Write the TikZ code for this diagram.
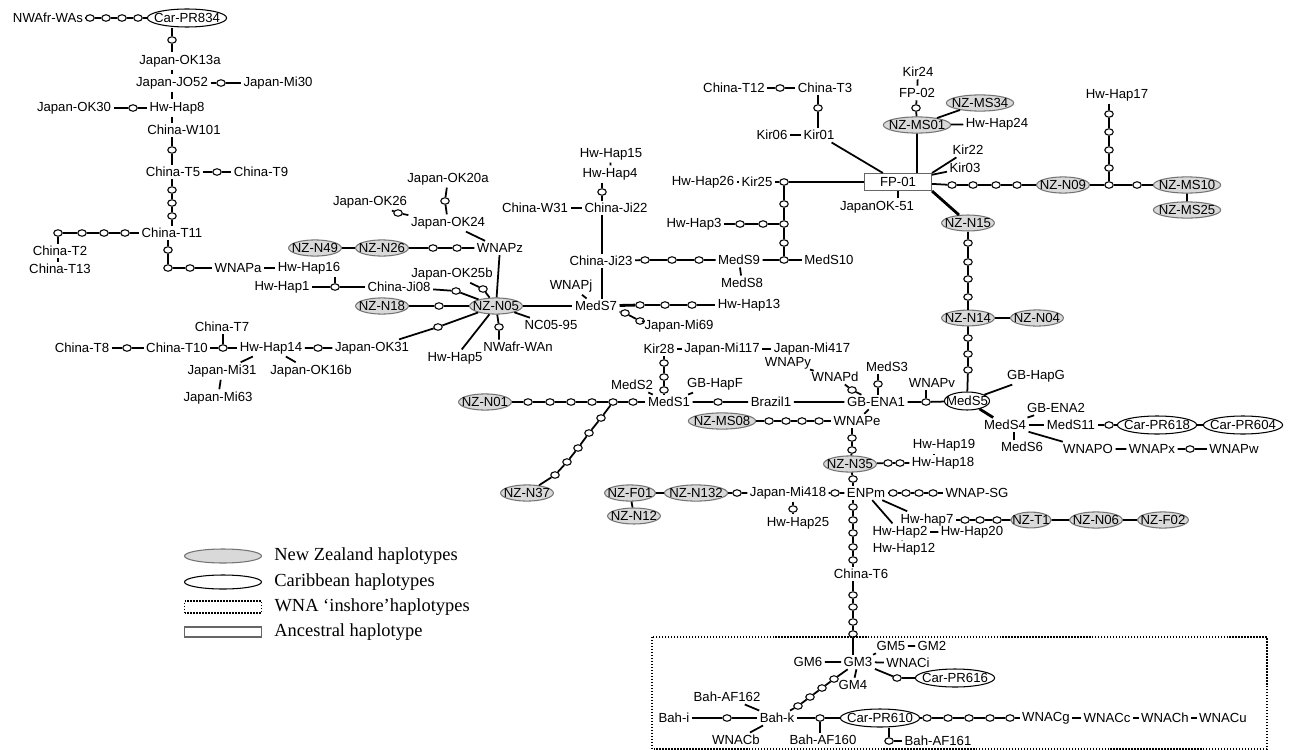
\documentclass[tikz,border=0pt]{standalone}
\usepackage{fontspec}
\setmainfont{Liberation Serif}
\setsansfont{Liberation Sans}
\usetikzlibrary{positioning,shapes.geometric}
\tikzset{
    hap/.style={%
        font=\sffamily\fontsize{7.5}{8}\selectfont,
        inner sep=1pt
        },
    nz/.style={hap, ellipse, draw=black!55, line width=0.6pt, fill=black!15,
        inner xsep=-2.5pt, inner ysep=0.6pt, minimum height=3mm},
    car/.style={hap, ellipse, draw, line width=0.6pt, fill=white,
        inner xsep=-2.8pt, inner ysep=0.6pt, minimum height=3.6mm},
    anc/.style={%
        hap, draw=black!60, line width=0.6pt, fill=white,
        minimum width=#1,
        minimum height=3.4mm
        },
    anc/.default=13.4mm,
    mv/.style={ellipse, draw, fill=white, line width=0.6pt,
        minimum width=1.7mm, minimum height=1.3mm, inner sep=0pt},
    heavy/.style={line width=1.6pt},
    inshore/.style={line width=0.8pt, dash pattern=on 0.8pt off 0.9pt},
    legtext/.style={font=\fontsize{10.5}{12}\selectfont, inner sep=0pt}
}

\begin{document}
\begin{tikzpicture}[x=0.02cm, y=-0.02cm, line width=1pt]
\useasboundingbox (0,0) rectangle (1294,750);

\node[hap] (nwafrwas) at (48,18) {NWAfr-WAs};
\node[mv] (ma1) at (90,18) {};
\node[mv] (ma2) at (106,18) {};
\node[mv] (ma3) at (122,18) {};
\node[mv] (ma4) at (138,18) {};
\node[car] (carpr834) at (187,18) {Car-PR834};
\node[mv] (mb1) at (172,40) {};
\node[hap] (jok13a) at (180,61) {Japan-OK13a};
\node[hap] (jjo52) at (172,83) {Japan-JO52};
\node[mv] (mc1) at (221,83) {};
\node[hap] (jmi30) at (278,83) {Japan-Mi30};
\node[hap] (hwhap8) at (177,108) {Hw-Hap8};
\node[mv] (md1) at (133,108) {};
\node[hap] (jok30) at (74,108) {Japan-OK30};
\node[hap] (chw101) at (184,130) {China-W101};
\node[mv] (me1) at (172,150) {};
\node[hap] (cht5) at (173,172) {China-T5};
\node[mv] (mf1) at (217,172) {};
\node[hap] (cht9) at (261,172) {China-T9};
\node[mv] (mg1) at (172,190) {};
\node[mv] (mg2) at (172,203) {};
\node[mv] (mg3) at (172,216) {};
\node[hap] (cht11) at (172,233) {China-T11};
\node[mv] (mh1) at (125,233) {};
\node[mv] (mh2) at (104,233) {};
\node[mv] (mh3) at (82,233) {};
\node[mv] (mh4) at (58,233) {};
\node[hap] (cht2) at (60,251) {China-T2};
\node[hap] (cht13) at (60,269) {China-T13};
\node[mv] (mi1) at (168,250) {};
\node[mv] (mi2) at (168,268) {};
\node[mv] (mi3) at (190,268) {};
\node[hap] (wnapa) at (238,268) {WNAPa};
\node[hap] (hwhap16) at (309,268) {Hw-Hap16};

\node[hap] (hwhap1) at (282,287) {Hw-Hap1};
\node[mv] (mj1) at (335,287) {};
\node[hap] (chji08) at (399,287) {China-Ji08};
\node[mv] (mk1) at (456,291) {};
\node[hap] (jok25b) at (452,274) {Japan-OK25b};
\node[mv] (ml1) at (483,289) {};
\node[nz] (nzn05) at (496,306) {NZ-N05};
\node[nz] (nzn18) at (382,306) {NZ-N18};
\node[mv] (mm1) at (439,306) {};
\node[hap] (wnapz) at (500,248) {WNAPz};
\node[nz] (nzn49) at (315,248) {NZ-N49};
\node[nz] (nzn26) at (382,248) {NZ-N26};
\node[mv] (mn1) at (433,248) {};
\node[mv] (mn2) at (457,248) {};
\node[hap] (jok24) at (448,223) {Japan-OK24};
\node[hap] (jok20a) at (448,179) {Japan-OK20a};
\node[mv] (mo1) at (445,201) {};
\node[hap] (jok26) at (370,202) {Japan-OK26};
\node[mv] (mp1) at (398,213) {};
\node[hap] (nc0595) at (551,325) {NC05-95};
\node[mv] (mq1) at (499,327) {};
\node[hap] (nwafrwan) at (518,347) {NWafr-WAn};
\node[hap] (hwhap5) at (455,358) {Hw-Hap5};
\node[mv] (mr1) at (438,327) {};
\node[hap] (jok31) at (372,348) {Japan-OK31};
\node[mv] (ms1) at (318,348) {};
\node[hap] (hwhap14) at (271,348) {Hw-Hap14};
\node[mv] (mt1) at (223,348) {};
\node[hap] (cht10) at (177,348) {China-T10};
\node[hap] (cht7) at (222,327) {China-T7};
\node[mv] (mu1) at (127,348) {};
\node[hap] (cht8) at (82,348) {China-T8};
\node[hap] (jmi31) at (222,371) {Japan-Mi31};
\node[hap] (jok16b) at (311,371) {Japan-OK16b};
\node[hap] (jmi63) at (218,398) {Japan-Mi63};

\node[hap] (hwhap15) at (611,154) {Hw-Hap15};
\node[hap] (hwhap4) at (610,174) {Hw-Hap4};
\node[mv] (pj1) at (602,192) {};
\node[hap] (chji22) at (616,208) {China-Ji22};
\node[hap] (chw31) at (535,208) {China-W31};
\node[hap] (chji23) at (601,261) {China-Ji23};
\node[hap] (wnapj) at (571,286) {WNAPj};
\node[hap] (meds7) at (596,306) {MedS7};
\node[mv] (s1) at (640,305) {};
\node[mv] (s2) at (665,305) {};
\node[mv] (s3) at (692,305) {};
\node[hap] (hwhap13) at (749,305) {Hw-Hap13};
\node[mv] (s4) at (625,313) {};
\node[mv] (s5) at (640,321) {};
\node[hap] (jmi69) at (679,326) {Japan-Mi69};
\node[mv] (mw1) at (645,260) {};
\node[mv] (mw2) at (672,260) {};
\node[mv] (mw3) at (699,260) {};
\node[hap] (meds9) at (739,260) {MedS9};
\node[hap] (meds8) at (742,283) {MedS8};
\node[mv] (mx1) at (784,260) {};
\node[hap] (meds10) at (829,260) {MedS10};
\node[mv] (mx2) at (784,243) {};
\node[mv] (mx3) at (784,224) {};
\node[mv] (mx4) at (784,204) {};
\node[mv] (mx5) at (784,182) {};
\node[hap] (hwhap3) at (694,224) {Hw-Hap3};
\node[mv] (my1) at (740,224) {};
\node[mv] (my2) at (763,224) {};
\node[hap] (kir25) at (757,182) {Kir25};
\node[hap] (hwhap26) at (703,182) {Hw-Hap26};

\node[anc] (fp01) at (898,182) {FP-01};
\node[hap] (kir01) at (819,135) {Kir01};
\node[hap] (kir06) at (772,135) {Kir06};
\node[mv] (mz1) at (818,108) {};
\node[hap] (cht3) at (825,88) {China-T3};
\node[mv] (mz2) at (780,88) {};
\node[hap] (cht12) at (734,88) {China-T12};
\node[nz] (nzms01) at (917,125) {NZ-MS01};
\node[mv] (na1) at (916,108) {};
\node[hap] (fp02) at (917,93) {FP-02};
\node[hap] (kir24) at (918,72) {Kir24};
\node[nz] (nzms34) at (980,103) {NZ-MS34};
\node[hap] (hwhap24) at (997,124) {Hw-Hap24};
\node[hap] (kir22) at (968,150) {Kir22};
\node[hap] (kir03) at (965,168) {Kir03};
\node[hap] (japanok51) at (877,207) {JapanOK-51};
\node[mv] (nb1) at (952,185) {};
\node[mv] (nb2) at (973,185) {};
\node[mv] (nb3) at (996,185) {};
\node[mv] (nb4) at (1017,185) {};
\node[nz] (nzn09) at (1063,185) {NZ-N09};
\node[mv] (nc1) at (1109,185) {};
\node[mv] (nc2) at (1137,185) {};
\node[nz] (nzms10) at (1187,185) {NZ-MS10};
\node[nz] (nzms25) at (1187,210) {NZ-MS25};
\node[mv] (nd1) at (1109,168) {};
\node[mv] (nd2) at (1109,150) {};
\node[mv] (nd3) at (1109,132) {};
\node[mv] (nd4) at (1109,114) {};
\node[hap] (hwhap17) at (1117,95) {Hw-Hap17};
\node[nz] (nzn15) at (968,223) {NZ-N15};
\node[mv] (ne1) at (968,243) {};
\node[mv] (ne2) at (968,262) {};
\node[mv] (ne3) at (968,279) {};
\node[mv] (ne4) at (968,297) {};
\node[nz] (nzn14) at (968,318) {NZ-N14};
\node[nz] (nzn04) at (1037,318) {NZ-N04};
\node[mv] (nf1) at (968,338) {};
\node[mv] (nf2) at (968,354) {};
\node[mv] (nf3) at (968,370) {};
\node[car] (meds5) at (967,401) {MedS5};
\node[hap] (gbhapg) at (1036,376) {GB-HapG};
\node[hap] (meds4) at (1005,425) {MedS4};
\node[hap] (gbena2) at (1056,408) {GB-ENA2};
\node[hap] (meds11) at (1071,425) {MedS11};
\node[mv] (ng1) at (1109,425) {};
\node[car] (carpr618) at (1157,425) {Car-PR618};
\node[car] (carpr604) at (1243,425) {Car-PR604};
\node[hap] (meds6) at (1022,447) {MedS6};
\node[hap] (wnapo) at (1088,449) {WNAPO};
\node[hap] (wnapx) at (1152,449) {WNAPx};
\node[mv] (nh1) at (1190,449) {};
\node[hap] (wnapw) at (1234,449) {WNAPw};

\node[hap] (kir28) at (659,349) {Kir28};
\node[hap] (jmi117) at (722,349) {Japan-Mi117};
\node[hap] (jmi417) at (812,349) {Japan-Mi417};
\node[mv] (ni1) at (664,363) {};
\node[mv] (ni2) at (664,377) {};
\node[mv] (ni3) at (664,390) {};
\node[hap] (meds1) at (669,402) {MedS1};
\node[hap] (meds2) at (632,385) {MedS2};
\node[hap] (gbhapf) at (715,384) {GB-HapF};
\node[nz] (nzn01) at (485,402) {NZ-N01};
\node[mv] (nj1) at (528,402) {};
\node[mv] (nj2) at (550,402) {};
\node[mv] (nj3) at (571,402) {};
\node[mv] (nj4) at (592,402) {};
\node[mv] (nj5) at (613,402) {};
\node[mv] (nj6) at (633,402) {};
\node[mv] (nk1) at (601,418) {};
\node[mv] (nk2) at (589,433) {};
\node[mv] (nk3) at (578,448) {};
\node[mv] (nk4) at (567,462) {};
\node[mv] (nk5) at (555,475) {};
\node[nz] (nzn37) at (527,493) {NZ-N37};
\node[mv] (nl1) at (718,402) {};
\node[hap] (brazil1) at (771,402) {Brazil1};
\node[hap] (gbena1) at (876,402) {GB-ENA1};
\node[mv] (nm1) at (926,402) {};
\node[hap] (wnapv) at (932,383) {WNAPv};
\node[hap] (meds3) at (887,367) {MedS3};
\node[mv] (nn1) at (878,384) {};
\node[hap] (wnapy) at (788,363) {WNAPy};
\node[hap] (wnapd) at (835,377) {WNAPd};
\node[mv] (no1) at (852,390) {};
\node[hap] (wnape) at (857,421) {WNAPe};
\node[nz] (nzms08) at (722,421) {NZ-MS08};
\node[mv] (np1) at (769,421) {};
\node[mv] (np2) at (786,421) {};
\node[mv] (np3) at (802,421) {};
\node[mv] (np4) at (819,421) {};
\node[mv] (nq1) at (852,438) {};
\node[mv] (nq2) at (852,450) {};
\node[nz] (nzn35) at (850,464) {NZ-N35};
\node[mv] (nr1) at (888,463) {};
\node[mv] (nr2) at (900,463) {};
\node[hap] (hwhap18) at (943,463) {Hw-Hap18};
\node[hap] (hwhap19) at (944,445) {Hw-Hap19};
\node[mv] (ns1) at (853,479) {};
\node[hap] (enpm) at (866,493) {ENPm};
\node[mv] (nt1) at (835,493) {};
\node[hap] (jmi418) at (788,493) {Japan-Mi418};
\node[mv] (nu1) at (793,509) {};
\node[hap] (hwhap25) at (798,523) {Hw-Hap25};
\node[mv] (nv1) at (737,493) {};
\node[nz] (nzn132) at (696,493) {NZ-N132};
\node[nz] (nzf01) at (630,493) {NZ-F01};
\node[nz] (nzn12) at (634,516) {NZ-N12};
\node[mv] (nw1) at (893,493) {};
\node[mv] (nw2) at (906,493) {};
\node[mv] (nw3) at (919,493) {};
\node[mv] (nw4) at (933,493) {};
\node[hap] (wnapsg) at (977,493) {WNAP-SG};
\node[hap] (hwhap7) at (927,520) {Hw-hap7};
\node[mv] (nx1) at (965,520) {};
\node[mv] (nx2) at (980,520) {};
\node[mv] (nx3) at (997,520) {};
\node[nz] (nzt1) at (1031,520) {NZ-T1};
\node[nz] (nzn06) at (1096,520) {NZ-N06};
\node[nz] (nzf02) at (1163,520) {NZ-F02};
\node[hap] (hwhap2) at (900,532) {Hw-Hap2};
\node[hap] (hwhap20) at (972,532) {Hw-Hap20};
\node[hap] (hwhap12) at (904,549) {Hw-Hap12};
\node[mv] (ny1) at (853,507) {};
\node[mv] (ny2) at (853,520) {};
\node[mv] (ny3) at (853,533) {};
\node[mv] (ny4) at (853,547) {};
\node[mv] (ny5) at (853,560) {};
\node[hap] (cht6) at (861,574) {China-T6};
\node[mv] (oz1) at (853,595) {};
\node[mv] (oz2) at (853,607) {};
\node[mv] (oz3) at (853,622) {};
\node[mv] (oz4) at (853,634) {};

\node[hap] (gm3) at (858,662) {GM3};
\node[hap] (gm6) at (808,662) {GM6};
\node[hap] (gm5) at (891,646) {GM5};
\node[hap] (gm2) at (932,646) {GM2};
\node[hap] (wnaci) at (908,663) {WNACi};
\node[hap] (gm4) at (853,685) {GM4};
\node[mv] (oa1) at (897,678) {};
\node[car] (carpr616) at (955,678) {Car-PR616};
\node[mv] (ob1) at (834,679) {};
\node[mv] (ob2) at (822,688) {};
\node[mv] (ob3) at (810,697) {};
\node[mv] (ob4) at (798,706) {};
\node[hap] (bahk) at (777,718) {Bah-k};
\node[hap] (bahaf162) at (727,697) {Bah-AF162};
\node[hap] (bahi) at (674,718) {Bah-i};
\node[mv] (oc1) at (727,718) {};
\node[hap] (wnacb) at (736,740) {WNACb};
\node[mv] (od1) at (820,718) {};
\node[hap] (bahaf160) at (823,740) {Bah-AF160};
\node[car] (carpr610) at (880,718) {Car-PR610};
\node[mv] (oe1) at (889,741) {};
\node[hap] (bahaf161) at (938,741) {Bah-AF161};
\node[mv] (of1) at (927,718) {};
\node[mv] (of2) at (948,718) {};
\node[mv] (of3) at (969,718) {};
\node[mv] (of4) at (990,718) {};
\node[mv] (of5) at (1010,718) {};
\node[hap] (wnacg) at (1046,718) {WNACg};
\node[hap] (wnacc) at (1107,718) {WNACc};
\node[hap] (wnach) at (1165,718) {WNACh};
\node[hap] (wnacu) at (1223,718) {WNACu};

\draw[inshore] (652,637) rectangle (1267,749);

\draw (nwafrwas) -- (ma1) -- (ma2) -- (ma3) -- (ma4) -- (carpr834);
\draw (mb1 |- carpr834.south) -- (mb1) -- (mb1 |- jok13a.north);
\draw (mb1 |- jok13a.south) -- (mb1 |- jjo52.north);
\draw (jjo52) -- (mc1) -- (jmi30);
\draw (mb1 |- jjo52.south) -- (mb1 |- hwhap8.north);
\draw (jok30) -- (md1) -- (hwhap8);
\draw (mb1 |- hwhap8.south) -- (mb1 |- chw101.north);
\draw (mb1 |- chw101.south) -- (me1) -- (mb1 |- cht5.north);
\draw (cht5) -- (mf1) -- (cht9);
\draw (mb1 |- cht5.south) -- (mg1) -- (mg2) -- (mg3) -- (mb1 |- cht11.north);
\draw (cht11) -- (mh1) -- (mh2) -- (mh3) -- (mh4) -- (mh4 |- cht2.north);
\draw (mh4 |- cht2.south) -- (mh4 |- cht13.north);
\draw (mi1 |- cht11.south) -- (mi1) -- (mi2) -- (mi3) -- (wnapa) -- (hwhap16);

\draw (hwhap1) -- (mj1) -- (chji08) -- (mk1) -- (nzn05);
\draw (mj1) -- (mj1 |- hwhap16.south);
\draw (jok25b) -- (ml1) -- (nzn05);
\draw[heavy] (nzn18) -- (mm1);
\draw (mm1) -- (nzn05);
\draw (nzn49) -- (nzn26) -- (mn1) -- (mn2) -- (wnapz) -- (nzn05);
\draw (jok24) -- (wnapz);
\draw (jok20a) -- (mo1) -- (jok24);
\draw (jok26) -- (mp1) -- (jok24);
\draw (nzn05) -- (nc0595);
\draw (nzn05) -- (mq1) -- (mq1 |- nwafrwan.north);
\draw (nzn05) -- (hwhap5);
\draw (nzn05) -- (mr1) -- (jok31) -- (ms1) -- (hwhap14);
\draw (cht8) -- (mu1) -- (cht10) -- (mt1) -- (hwhap14);
\draw (mt1) -- (mt1 |- cht7.south);
\draw (hwhap14) -- (jmi31) -- (jmi63);
\draw (hwhap14) -- (jok16b);

\draw (nzn05) -- (meds7);
\draw (wnapj) -- (meds7);
\draw (hwhap15) -- (hwhap4);
\draw (pj1 |- hwhap4.south) -- (pj1) -- (pj1 |- chji22.north);
\draw (chw31) -- (chji22);
\draw (pj1 |- chji22.south) -- (pj1 |- chji23.north);
\draw (pj1 |- chji23.south) -- (pj1 |- meds7.north);
\draw[heavy] (meds7) -- (s1);
\draw (s1) -- (s2) -- (s3) -- (hwhap13);
\draw (meds7) -- (s4) -- (s5) -- (jmi69);
\draw (chji23) -- (mw1) -- (mw2) -- (mw3) -- (meds9) -- (mx1) -- (meds10);
\draw (meds9) -- (meds8);
\draw (mx1) -- (mx2) -- (mx3) -- (mx4) -- (mx5) -- (fp01);
\draw (hwhap3) -- (my1) -- (my2) -- (mx3);
\draw (hwhap26) -- (kir25) -- (mx5);

\draw (cht12) -- (mz2) -- (cht3);
\draw (mz1 |- cht3.south) -- (mz1) -- (mz1 |- kir01.north);
\draw (kir06) -- (kir01) -- (fp01);
\draw (kir24) -- (fp02) -- (na1) -- (nzms01) -- (nzms01 |- fp01.north);
\draw (nzms01) -- (nzms34);
\draw (nzms01) -- (hwhap24);
\draw (fp01.north east) -- (kir22);
\draw (fp01.12) -- (kir03);
\draw (fp01.south) -- (fp01.south |- japanok51.north);
\draw (fp01) -- (nb1) -- (nb2) -- (nb3) -- (nb4) -- (nzn09) -- (nc1) -- (nc2) -- (nzms10) -- (nzms25);
\draw (nc1) -- (nd1) -- (nd2) -- (nd3) -- (nd4) -- (nd4 |- hwhap17.south);
\draw[heavy] (fp01.south east) -- (nzn15);
\draw (nzn15) -- (ne1) -- (ne2) -- (ne3) -- (ne4) -- (nzn14) -- (nzn04);
\draw (nzn14) -- (nf1) -- (nf2) -- (nf3) -- (meds5);
\draw (meds5) -- (gbhapg);
\draw[heavy] (meds5) -- (meds4);
\draw (meds4) -- (gbena2);
\draw (meds4) -- (meds11) -- (ng1) -- (carpr618) -- (carpr604);
\draw ([xshift=1.8mm]meds4.south) -- ([xshift=1.8mm]meds4.south |- meds6.north);
\draw (meds4) -- (wnapo) -- (wnapx) -- (nh1) -- (wnapw);

\draw (kir28) -- (jmi117) -- (jmi417);
\draw (ni1 |- kir28.south) -- (ni1) -- (ni2) -- (ni3) -- (ni3 |- meds1.north);
\draw (meds2) -- (meds1) -- (gbhapf);
\draw (nzn01) -- (nj1) -- (nj2) -- (nj3) -- (nj4) -- (nj5) -- (nj6) -- (meds1);
\draw (nj5) -- (nk1) -- (nk2) -- (nk3) -- (nk4) -- (nk5) -- (nzn37);
\draw (meds1) -- (nl1) -- (brazil1) -- (gbena1) -- (nm1) -- (meds5);
\draw (nm1) -- (nm1 |- wnapv.south);
\draw (nn1 |- meds3.south) -- (nn1) -- (nn1 |- gbena1.north);
\draw (wnapy) -- (wnapd) -- (no1) -- (gbena1);
\draw (gbena1) -- (wnape);
\draw (nzms08) -- (np1) -- (np2) -- (np3) -- (np4) -- (wnape);
\draw (nq1 |- wnape.south) -- (nq1) -- (nq2) -- (nzn35);
\draw (nzn35) -- (nr1) -- (nr2) -- (hwhap18);
\draw ([xshift=-2mm]hwhap19.south) -- ([xshift=-2mm]hwhap19.south |- hwhap18.north);
\draw (nzn35) -- (ns1) -- (ns1 |- enpm.north);
\draw (enpm) -- (nt1) -- (jmi418) -- (nv1) -- (nzn132) -- (nzf01) -- (nzn12);
\draw (nu1 |- jmi418.south) -- (nu1) -- (nu1 |- hwhap25.north);
\draw (enpm) -- (nw1) -- (nw2) -- (nw3) -- (nw4) -- (wnapsg);
\draw (enpm) -- (hwhap7) -- (nx1) -- (nx2) -- (nx3) -- (nzt1) -- (nzn06) -- (nzf02);
\draw (enpm) -- (hwhap2) -- (hwhap20);
\draw (hwhap2) -- (hwhap12);
\draw (ns1 |- enpm.south) -- (ny1) -- (ny2) -- (ny3) -- (ny4) -- (ny5) -- (ny5 |- cht6.north);
\draw (ny5 |- cht6.south) -- (oz1) -- (oz2) -- (oz3) -- (oz4) -- (oz4 |- gm3.north);

\draw (gm6) -- (gm3) -- (gm5) -- (gm2);
\draw (gm3) -- (wnaci);
\draw (gm3) -- (gm4);
\draw (gm3) -- (oa1) -- (carpr616);
\draw (gm3) -- (ob1) -- (ob2) -- (ob3) -- (ob4) -- (bahk);
\draw (bahaf162) -- (bahk);
\draw (bahi) -- (oc1) -- (bahk) -- (od1) -- (carpr610);
\draw (bahk) -- (wnacb);
\draw (od1) -- (od1 |- bahaf160.north);
\draw (oe1 |- carpr610.south) -- (oe1) -- (bahaf161);
\draw (carpr610) -- (of1) -- (of2) -- (of3) -- (of4) -- (of5) -- (wnacg) -- (wnacc) -- (wnach) -- (wnacu);

\node[nz, minimum width=15.4mm, minimum height=2.8mm] (legnz) at (223,556) {};
\node[legtext, right=2.3mm of legnz] (legnztext) {New Zealand haplotypes};
\node[car, minimum width=15.4mm, minimum height=2.8mm] (legcar) at (223,582) {};
\node[legtext, right=2.3mm of legcar] (legcartext) {Caribbean haplotypes};
\node[inshore, draw, minimum width=15.4mm, minimum height=2.2mm] (legwna) at (223,607) {};
\node[legtext, right=2.3mm of legwna] (legwnatext) {WNA ‘inshore’haplotypes};
\node[anc=15.4mm, minimum height=2mm] (leganc) at (223,632) {};
\node[legtext, right=2.3mm of leganc] (legancestext) {Ancestral haplotype};

\end{tikzpicture}
\end{document}
